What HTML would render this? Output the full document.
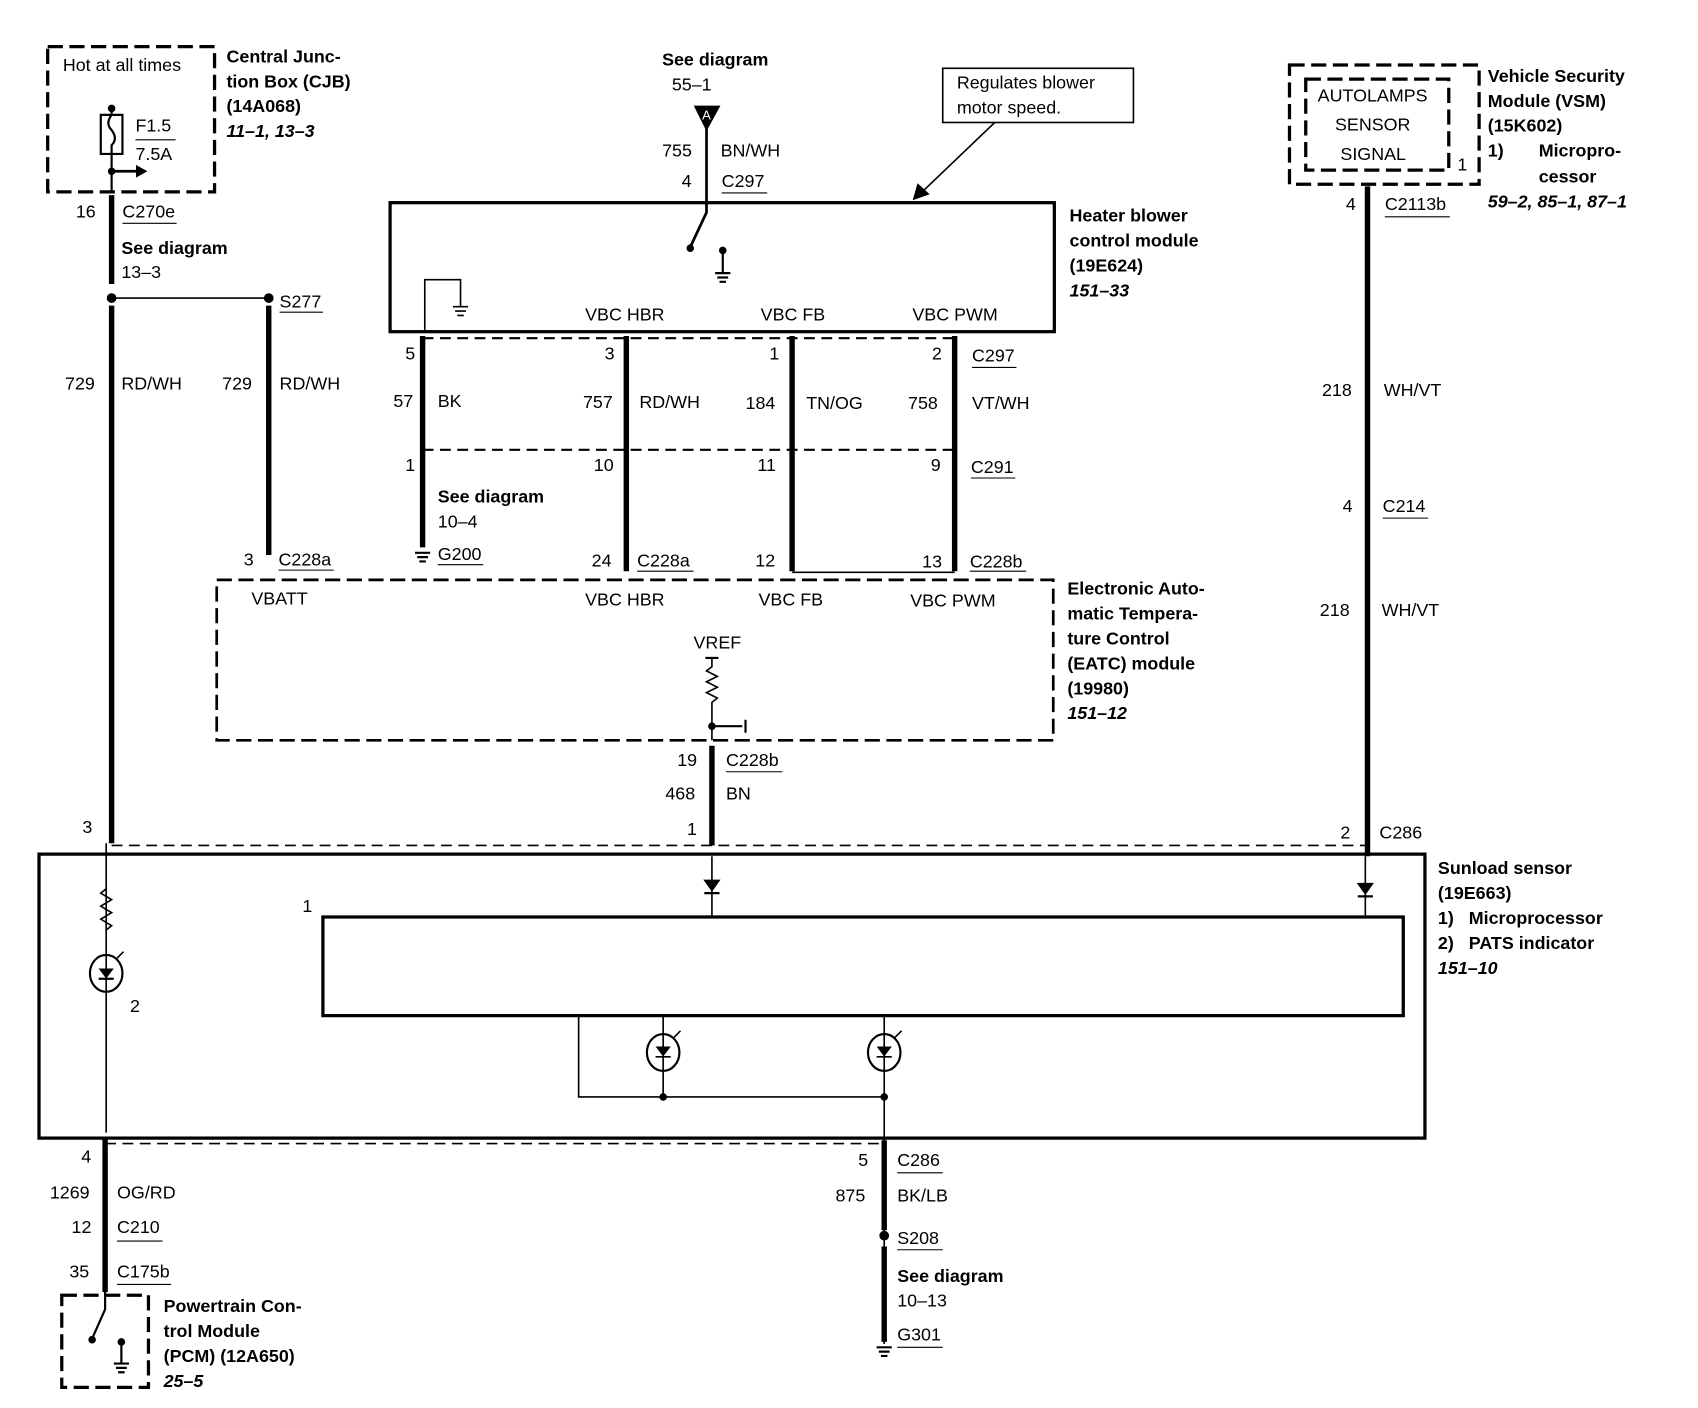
<!DOCTYPE html>
<html><head><meta charset="utf-8"><style>
html,body{margin:0;padding:0;background:#fff;}
svg{display:block}
text{font-family:"Liberation Sans",Arial,sans-serif;font-size:16.5px;fill:#000;dominant-baseline:central}
.b{font-weight:bold}
.i{font-weight:bold;font-style:italic}
</style></head><body>
<svg width="1698" height="1408" viewBox="0 0 1567 1299" preserveAspectRatio="none" xmlns="http://www.w3.org/2000/svg">
<g fill="none" stroke="#000">
<rect x="44" y="43" width="154" height="134" stroke-width="3" stroke-dasharray="14,6"/>
<path d="M103 100 V106 M93 106 h20 v36 h-20 z M103 106 q-6 8 0 14 q6 8 0 14 v14 V178" stroke-width="2"/>
<circle cx="103" cy="100" r="3" fill="#000"/>
<circle cx="103" cy="158" r="3" fill="#000"/>
<path d="M103 158 H126" stroke-width="2.5"/>
<path d="M126 153 L135 158 L126 163 z" fill="#000"/>
<path d="M125 129 H162" stroke-width="1"/>
<path d="M103 180 V262 M103 282 V778" stroke-width="5"/>
<path d="M103 275 H248" stroke-width="1.5"/>
<circle cx="103" cy="275" r="4" fill="#000"/><circle cx="248" cy="275" r="4" fill="#000"/>
<path d="M248 282 V512" stroke-width="5"/>
<path d="M258 288 H298 M113 206 H163" stroke-width="1"/>
<path d="M98 778 V1045" stroke-width="1.5"/>
<path d="M98 820 l-5 4 10 6 -10 6 10 6 -10 6 10 6 -5 4" stroke-width="1.5"/>
<ellipse cx="98" cy="898" rx="15" ry="17" stroke-width="2"/>
<path d="M92 894 h12 l-6 8 z" fill="#000"/><path d="M91 903 h14" stroke-width="2"/>
<path d="M108 884 l6 -6" stroke-width="1.5"/>
<rect x="360" y="187" width="613" height="119" stroke-width="3"/>
<path d="M652 118 V196 L637 228" stroke-width="2.5"/>
<circle cx="637" cy="229" r="3" fill="#000"/><circle cx="667" cy="231" r="3" fill="#000"/>
<path d="M667 231 V252 M660 252 h14 M662 256 h10 M664 260 h6" stroke-width="2"/>
<path d="M392 306 V258 H425 V283 M418 283 h14 M420 287 h10 M422 291 h6" stroke-width="1.5"/>
<path d="M641 98 H664 L652 120 z" fill="#000"/>
<path d="M666 178 H708" stroke-width="1"/>
<rect x="870" y="63" width="176" height="50" stroke-width="1.5"/>
<path d="M918 113 L850 178" stroke-width="1.5"/>
<path d="M843 184 L847 170 L857 179 z" fill="#000"/>
<path d="M390 310 V505 M578 310 V527 M731 310 V527 M881 310 V527" stroke-width="5"/>
<path d="M731 528 H881" stroke-width="1.5"/>
<path d="M390 312 H881 M390 415 H881" stroke-width="2" stroke-dasharray="10,6"/>
<path d="M383 510 h14 M385 514 h10 M387 518 h6" stroke-width="2"/>
<path d="M897 339 H938 M896 441 H937 M588 527 H640 M895 527 H947 M257 526 H308 M404 521 H446" stroke-width="1"/>
<rect x="200" y="535" width="772" height="148" stroke-width="2.5" stroke-dasharray="14,6"/>
<path d="M651 607 h12" stroke-width="2"/>
<path d="M657 607 V615 l-5 4 10 5 -10 5 10 5 -10 5 10 5 -5 4 V683" stroke-width="1.5"/>
<circle cx="657" cy="670" r="3" fill="#000"/>
<path d="M657 670 H685 M688 664 V676" stroke-width="2"/>
<path d="M657 688 V780" stroke-width="5"/>
<path d="M670 712 H722" stroke-width="1"/>
<rect x="1190" y="60" width="175" height="110" stroke-width="3" stroke-dasharray="14,6"/>
<rect x="1205" y="73" width="132" height="84" stroke-width="3" stroke-dasharray="14,6"/>
<path d="M1262 172 V790" stroke-width="5"/>
<path d="M1278 200 H1338 M1276 478 H1318" stroke-width="1"/>
<path d="M103 780 H1260" stroke-width="1.5" stroke-dasharray="10,6"/>
<path d="M97 1055 H816" stroke-width="1.5" stroke-dasharray="10,6"/>
<rect x="36" y="788" width="1279" height="262" stroke-width="3"/>
<rect x="298" y="846" width="997" height="91" stroke-width="3"/>
<path d="M657 790 V846 M1260 790 V846" stroke-width="1.5"/>
<path d="M650 812 h14 l-7 10 z M1253 815 h14 l-7 10 z" fill="#000"/>
<path d="M650 824 h14 M1253 827 h14" stroke-width="2"/>
<path d="M534 937 V1012 H816 M612 937 V1012 M816 937 V1240" stroke-width="1.5"/>
<ellipse cx="612" cy="971" rx="15" ry="17" stroke-width="2"/>
<ellipse cx="816" cy="971" rx="15" ry="17" stroke-width="2"/>
<path d="M606 966 h12 l-6 8 z M810 966 h12 l-6 8 z" fill="#000"/>
<path d="M605 975 h14 M809 975 h14 M622 957 l6 -6 M826 957 l6 -6" stroke-width="1.5"/>
<circle cx="612" cy="1012" r="3" fill="#000"/><circle cx="816" cy="1012" r="3" fill="#000"/>
<path d="M97 1050 V1192" stroke-width="5"/>
<path d="M108 1145 H150 M108 1185 H158" stroke-width="1"/>
<rect x="57" y="1195" width="80" height="85" stroke-width="3" stroke-dasharray="14,6"/>
<path d="M97 1192 V1208 L85 1235" stroke-width="2"/>
<circle cx="85" cy="1236" r="3" fill="#000"/><circle cx="112" cy="1238" r="3" fill="#000"/>
<path d="M112 1238 V1258 M105 1258 h14 M107 1262 h10 M109 1266 h6" stroke-width="2"/>
<path d="M816 1052 V1135 M816 1150 V1238" stroke-width="5"/>
<circle cx="816" cy="1140" r="4" fill="#000"/>
<path d="M809 1243 h14 M811 1247 h10 M813 1251 h6" stroke-width="2"/>
<path d="M828 1082 H870 M828 1153 H870 M828 1243 H870" stroke-width="1"/>
</g>
<g>
<text x="58" y="60">Hot at all times</text>
<text x="125" y="116">F1.5</text><text x="125" y="142">7.5A</text>
<text class="b" x="209" y="52">Central Junc-</text>
<text class="b" x="209" y="75">tion Box (CJB)</text>
<text class="b" x="209" y="98">(14A068)</text>
<text class="i" x="209" y="121">11–1, 13–3</text>
<text x="70" y="195">16</text><text x="113" y="195">C270e</text>
<text class="b" x="112" y="229">See diagram</text><text x="112" y="251">13–3</text>
<text x="258" y="278">S277</text>
<text x="60" y="354">729</text><text x="112" y="354">RD/WH</text>
<text x="205" y="354">729</text><text x="258" y="354">RD/WH</text>
<text x="225" y="516">3</text><text x="257" y="516">C228a</text>
<text class="b" x="611" y="55">See diagram</text><text x="620" y="78">55–1</text>
<text x="611" y="139">755</text><text x="665" y="139">BN/WH</text>
<text x="629" y="167">4</text><text x="666" y="167">C297</text>
<text x="648" y="106" style="font-size:12px;fill:#fff">A</text>
<text x="883" y="76">Regulates blower</text><text x="883" y="99">motor speed.</text>
<text class="b" x="987" y="199">Heater blower</text>
<text class="b" x="987" y="222">control module</text>
<text class="b" x="987" y="245">(19E624)</text>
<text class="i" x="987" y="268">151–33</text>
<text x="540" y="290">VBC HBR</text><text x="702" y="290">VBC FB</text><text x="842" y="290">VBC PWM</text>
<text x="374" y="326">5</text><text x="558" y="326">3</text><text x="710" y="326">1</text><text x="860" y="326">2</text><text x="897" y="328">C297</text>
<text x="363" y="370">57</text><text x="404" y="370">BK</text>
<text x="538" y="371">757</text><text x="590" y="371">RD/WH</text>
<text x="688" y="372">184</text><text x="744" y="372">TN/OG</text>
<text x="838" y="372">758</text><text x="897" y="372">VT/WH</text>
<text x="374" y="429">1</text><text x="548" y="429">10</text><text x="699" y="429">11</text><text x="859" y="429">9</text><text x="896" y="431">C291</text>
<text class="b" x="404" y="458">See diagram</text><text x="404" y="481">10–4</text>
<text x="404" y="511">G200</text>
<text x="546" y="517">24</text><text x="588" y="517">C228a</text>
<text x="697" y="517">12</text><text x="851" y="518">13</text><text x="895" y="518">C228b</text>
<text x="232" y="552">VBATT</text><text x="540" y="553">VBC HBR</text><text x="700" y="553">VBC FB</text><text x="840" y="554">VBC PWM</text>
<text x="640" y="593">VREF</text>
<text class="b" x="985" y="543">Electronic Auto-</text>
<text class="b" x="985" y="566">matic Tempera-</text>
<text class="b" x="985" y="589">ture Control</text>
<text class="b" x="985" y="612">(EATC) module</text>
<text class="b" x="985" y="635">(19980)</text>
<text class="i" x="985" y="658">151–12</text>
<text x="625" y="701">19</text><text x="670" y="701">C228b</text>
<text x="614" y="732">468</text><text x="670" y="732">BN</text>
<text x="634" y="765">1</text><text x="76" y="763">3</text>
<text x="1216" y="88">AUTOLAMPS</text><text x="1232" y="115">SENSOR</text><text x="1237" y="142">SIGNAL</text>
<text x="1345" y="152">1</text>
<text class="b" x="1373" y="70">Vehicle Security</text>
<text class="b" x="1373" y="93">Module (VSM)</text>
<text class="b" x="1373" y="116">(15K602)</text>
<text class="b" x="1373" y="139">1)</text><text class="b" x="1420" y="139">Micropro-</text>
<text class="b" x="1420" y="163">cessor</text>
<text class="i" x="1373" y="186">59–2, 85–1, 87–1</text>
<text x="1242" y="188">4</text><text x="1278" y="188">C2113b</text>
<text x="1220" y="360">218</text><text x="1277" y="360">WH/VT</text>
<text x="1239" y="467">4</text><text x="1276" y="467">C214</text>
<text x="1218" y="563">218</text><text x="1275" y="563">WH/VT</text>
<text x="1237" y="768">2</text><text x="1273" y="768">C286</text>
<text class="b" x="1327" y="801">Sunload sensor</text>
<text class="b" x="1327" y="824">(19E663)</text>
<text class="b" x="1327" y="847">1)&#160;&#160;&#160;Microprocessor</text>
<text class="b" x="1327" y="870">2)&#160;&#160;&#160;PATS indicator</text>
<text class="i" x="1327" y="893">151–10</text>
<text x="279" y="836">1</text><text x="120" y="928">2</text>
<text x="75" y="1067">4</text><text x="46" y="1100">1269</text><text x="108" y="1100">OG/RD</text>
<text x="66" y="1132">12</text><text x="108" y="1132">C210</text>
<text x="64" y="1173">35</text><text x="108" y="1173">C175b</text>
<text class="b" x="151" y="1205">Powertrain Con-</text>
<text class="b" x="151" y="1228">trol Module</text>
<text class="b" x="151" y="1251">(PCM) (12A650)</text>
<text class="i" x="151" y="1274">25–5</text>
<text x="792" y="1070">5</text><text x="828" y="1070">C286</text>
<text x="771" y="1103">875</text><text x="828" y="1103">BK/LB</text>
<text x="828" y="1142">S208</text>
<text class="b" x="828" y="1177">See diagram</text><text x="828" y="1200">10–13</text>
<text x="828" y="1231">G301</text>
</g>
</svg>
</body></html>
